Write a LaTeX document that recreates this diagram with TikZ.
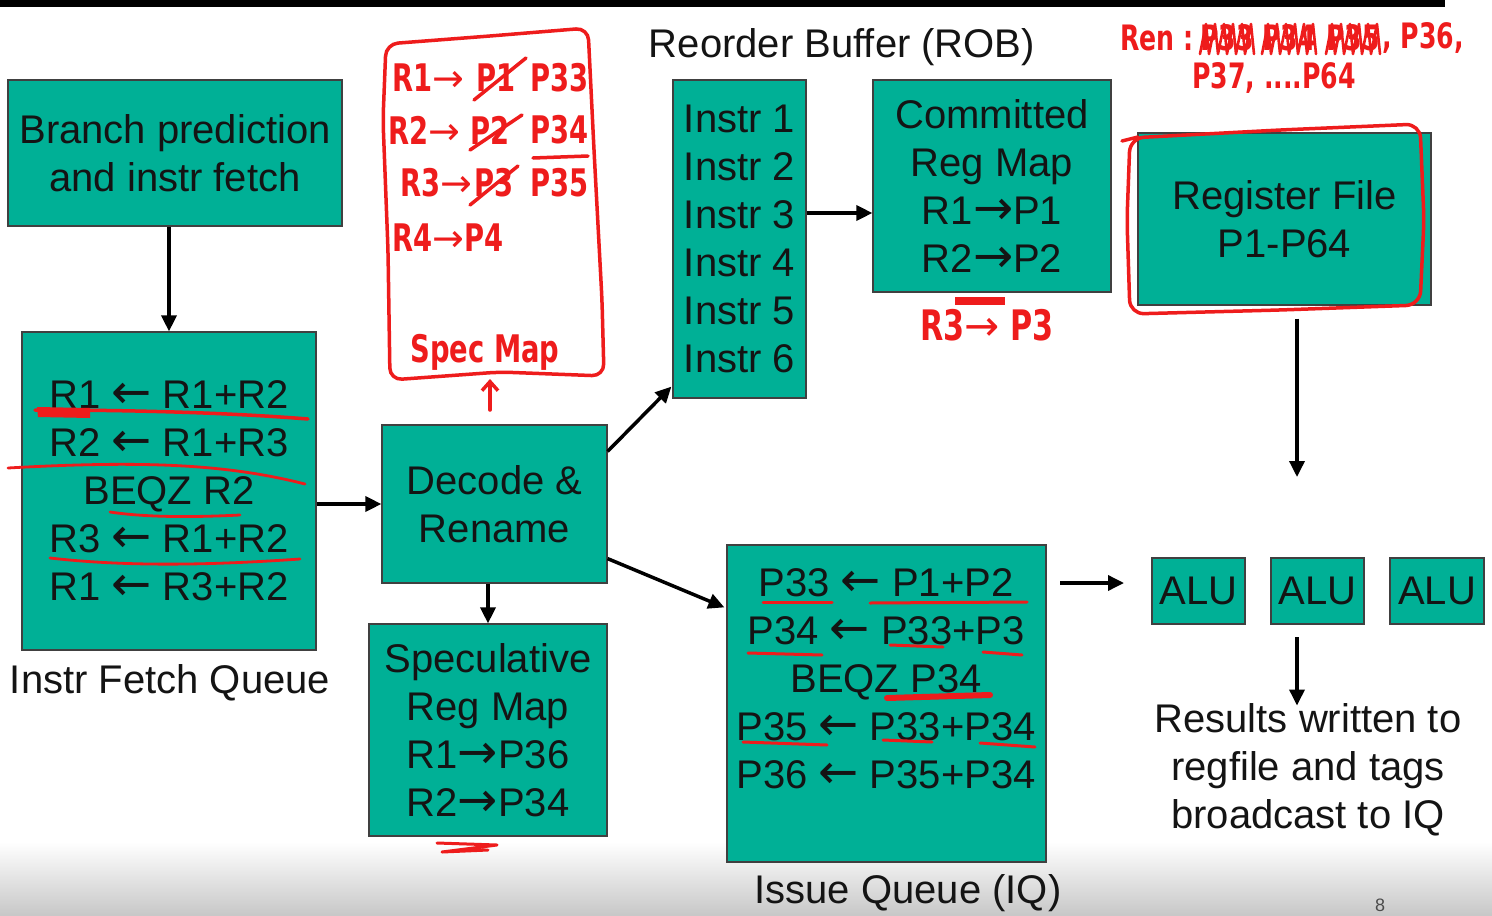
\documentclass[tikz,border=0pt]{standalone}
\usepackage{fontspec}
\setmainfont{Liberation Sans}
\newfontfamily\arrowfont{DejaVu Sans}[Scale=1.2]
\newfontfamily\handfont{DejaVu Sans}[FakeStretch=0.72]
\newfontfamily\handarrowfont{DejaVu Sans}
\usetikzlibrary{arrows.meta,calc}
\definecolor{boxteal}{RGB}{0,176,150}
\definecolor{penred}{RGB}{238,28,28}
\definecolor{inkblack}{RGB}{20,20,20}
\newcommand{\myla}{{\arrowfont ←}}
\newcommand{\myra}{{\arrowfont →}}
\newcommand{\handra}{{\handarrowfont\mdseries →}}
\begin{document}
\begin{tikzpicture}[x=1pt, y=-1pt,
  box/.style={draw=black!75, line width=1.2pt, fill=boxteal, inner sep=0pt, text=inkblack, align=center, font=\fontsize{40}{48}\selectfont},
  lbl/.style={text=inkblack, align=center, inner sep=0pt, font=\fontsize{40}{48}\selectfont},
  arr/.style={draw=black, line width=3.5pt, -{Triangle[length=16pt,width=15pt]}},
  redpen/.style={draw=penred, line width=3.5pt, line cap=round, line join=round},
  hand/.style={text=penred, inner sep=0pt, font=\handfont\bfseries\fontsize{38}{44}\selectfont},
  smallhand/.style={text=penred, inner sep=0pt, font=\handfont\bfseries\fontsize{35}{40}\selectfont},
]
\useasboundingbox (0,0) rectangle (1492,916);
\fill[white] (0,0) rectangle (1492,916);
\shade[top color=white, bottom color=black!22] (0,842) rectangle (1492,916);
\fill[black] (0,0) rectangle (1445,7);

% ---------- boxes ----------
\node[box, minimum width=334pt, minimum height=146pt] (branch) at (175,153) {Branch prediction\\and instr fetch};
\node[box, minimum width=294pt, minimum height=318pt] (ifq) at (169,491)
  {R1 \myla{} R1+R2\\R2 \myla{} R1+R3\\BEQZ R2\\R3 \myla{} R1+R2\\R1 \myla{} R3+R2};
\node[lbl] (ifqlbl) at (170,683) {Instr Fetch Queue};
\node[box, minimum width=225pt, minimum height=158pt] (decode) at (494.5,504) {Decode \&\\Rename};
\node[box, minimum width=238pt, minimum height=212pt] (spec) at (488,730) {Speculative\\Reg Map\\R1\myra P36\\R2\myra P34};
\node[box, minimum width=133pt, minimum height=318pt] (rob) at (739.5,239) {Instr 1\\Instr 2\\Instr 3\\Instr 4\\Instr 5\\Instr 6};
\node[lbl] (roblbl) at (842,47) {Reorder Buffer (ROB)};
\node[box, minimum width=238pt, minimum height=212pt] (crm) at (992,186) {Committed\\Reg Map\\R1\myra P1\\R2\myra P2};
\node[box, minimum width=293pt, minimum height=172pt] (rf) at (1284.5,219) {Register File\\P1-P64};
\node[box, minimum width=319pt, minimum height=317pt] (iq) at (886.5,703.5) {};
\node[lbl] (iqtext) at (886,679) {P33 \myla{} P1+P2\\P34 \myla{} P33+P3\\BEQZ P34\\P35 \myla{} P33+P34\\P36 \myla{} P35+P34};
\node[lbl] (iqlbl) at (908,893) {Issue Queue (IQ)};
\node[box, minimum width=93pt, minimum height=66pt] (alu1) at (1198.5,591) {ALU};
\node[box, minimum width=93pt, minimum height=66pt] (alu2) at (1317.5,591) {ALU};
\node[box, minimum width=94pt, minimum height=66pt] (alu3) at (1437,591) {ALU};
\node[lbl] (results) at (1308,770) {Results written to\\regfile and tags\\broadcast to IQ};
\node[text=black!70, inner sep=0pt, font=\fontsize{18}{18}\selectfont] (pagenum) at (1380,905) {8};

% ---------- connectors ----------
\draw[arr] (branch.south -| ifq.north) -- (ifq.north);
\draw[arr] (ifq.east |- decode.west) -- (decode.west);
\draw[arr] (decode.south -| spec.north) -- (spec.north);
\draw[arr] ($(decode.north east)+(0,27)$) -- ($(rob.south west)+(-1,-12)$);
\draw[arr] ($(decode.south east)+(0,-25)$) -- ($(iq.north west)+(-2,63)$);
\draw[arr] ($(rob.east)+(0,-26)$) coordinate (robout) -- (robout -| crm.west);
\coordinate (rfout) at (1297,477);
\draw[arr] ($(rf.south -| rfout)+(0,13)$) -- (rfout);
\coordinate (iqout) at (1060,583);
\coordinate (aluin) at (1124,583);
\draw[arr] (iqout) -- (aluin);
\coordinate (aluout) at (1297,637);
\draw[arr] (aluout) -- ($(aluout |- results.north)+(0,2)$);

% ---------- red annotations: spec map sketch ----------
\draw[redpen, rounded corners=12pt] (386,44) -- (490,36) -- (588,28) -- (594,150) -- (602,300) -- (604,376) -- (500,372) -- (390,380) -- (388,250) -- (383,120) -- cycle;
\node[hand, anchor=west] (s1a) at (392,78) {R1\handra};
\node[hand, anchor=west] (s1b) at (476,78) {P1};
\node[hand, anchor=west] (s1c) at (530,78) {P33};
\draw[redpen] (474,100) -- (526,58);
\node[hand, anchor=west] (s2a) at (388,130) {R2\handra};
\node[hand, anchor=west] (s2b) at (470,130) {P2};
\node[hand, anchor=west] (s2c) at (530,130) {P34};
\draw[redpen] (470,150) -- (522,115);
\draw[redpen] (533,158) -- (588,156);
\node[hand, anchor=west] (s3a) at (400,183) {R3\handra};
\node[hand, anchor=west] (s3b) at (474,183) {P3};
\node[hand, anchor=west] (s3c) at (530,183) {P35};
\draw[redpen] (470,205) -- (518,166);
\node[hand, anchor=west] (s4) at (392,238) {R4\handra P4};
\node[hand] (specmap) at (485,352) {Spec Map};
\coordinate (redbase) at (490,410);
\draw[redpen, -{Straight Barb[length=9pt,width=16pt]}] (redbase) -- ($(redbase)+(0,-31)$);

% ---------- red annotations: committed map / free list ----------
\fill[penred] (955,297) rectangle (1005,305);
\node[hand, font=\handfont\bfseries\fontsize{42}{44}\selectfont] (r3p3) at (987,325) {R3\handra{} P3};
\node[smallhand, anchor=west] (ren) at (1120,38) {Ren :};
\foreach \wx/\wt in {1200/P33, 1262/P34, 1326/P35} {
  \node[smallhand, anchor=west] at (\wx,38) {\wt};
  \draw[redpen, line width=2.6pt] (\wx,54) -- ++(6,-30) -- ++(3,30) -- ++(6,-30) -- ++(3,30) -- ++(6,-30) -- ++(3,30) -- ++(6,-30) -- ++(3,30) -- ++(6,-30) -- ++(3,30) -- ++(6,-30) -- ++(3,30);
}
\node[smallhand, anchor=west] (ren2) at (1382,38) {, P36,};
\node[smallhand, anchor=west] (ren3) at (1192,78) {P37, ....P64};
\draw[redpen, rounded corners=14pt] (1130,138) -- (1280,130) -- (1420,124) -- (1424,220) -- (1420,305) -- (1280,310) -- (1130,314) -- (1127,220) -- cycle;
\draw[redpen] (1122,141) -- (1138,137);

% ---------- red underlines in IFQ ----------
\fill[penred] (37,407) -- (90,408) -- (90,418) -- (38,417) -- cycle;
\draw[redpen] (35,410) .. controls (120,410) and (220,412) .. (308,419);
\draw[redpen, line width=2.8pt] (8,468) .. controls (150,460) and (230,465) .. (305,484);
\draw[redpen, line width=2.8pt] (110,512) .. controls (150,518) and (200,517) .. (240,515);
\draw[redpen, line width=2.8pt] (50,558) .. controls (120,566) and (200,566) .. (300,559);

% ---------- red underlines in IQ ----------
\draw[redpen, line width=3pt] (763,602) -- (832,602);
\draw[redpen, line width=3pt] (870,603) -- (1027,602);
\draw[redpen, line width=3pt] (748,653) -- (822,655);
\draw[redpen, line width=3pt] (890,645) -- (943,647);
\draw[redpen, line width=3pt] (983,652) -- (1022,655);
\draw[redpen, line width=6pt] (887,698) -- (990,695);
\draw[redpen, line width=3pt] (743,742) -- (827,745);
\draw[redpen, line width=3pt] (883,740) -- (932,742);
\draw[redpen, line width=3pt] (980,743) -- (1035,747);

% ---------- red mark under speculative map ----------
\draw[redpen, line width=3pt] (437,843) -- (497,845) -- (442,852) -- (488,850);
\end{tikzpicture}
\end{document}
